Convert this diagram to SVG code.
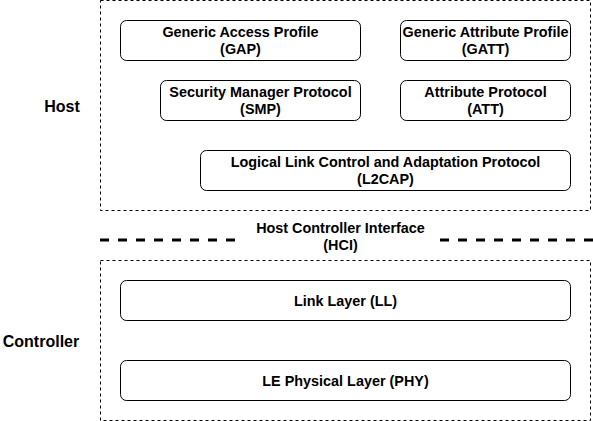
<svg xmlns="http://www.w3.org/2000/svg" width="593" height="421" viewBox="0 0 593 421">
<style>
.grp{fill:#ffffff;stroke:#000000;stroke-width:1;stroke-dasharray:3 3}
.box{fill:#ffffff;stroke:#000000;stroke-width:1}
.t{font-family:"Liberation Sans",Arial,sans-serif;font-weight:bold;font-size:14.4px;fill:#000000;text-anchor:middle}
.lbl{font-family:"Liberation Sans",Arial,sans-serif;font-weight:bold;font-size:16px;fill:#000000;text-anchor:middle}
.hci{fill:none;stroke:#000000;stroke-width:3;stroke-dasharray:9 9}
</style>
<rect width="593" height="421" fill="#ffffff"/>
<g id="host-group">
<rect class="grp" x="100.5" y="0.5" width="490" height="210"/>
<text class="lbl" x="62" y="112">Host</text>
</g>
<g id="controller-group">
<rect class="grp" x="100.5" y="260.5" width="490" height="160"/>
<text class="lbl" x="41" y="347">Controller</text>
</g>
<g id="gap">
<rect class="box" x="120.5" y="20.5" width="240" height="40" rx="6"/>
<text class="t" x="240.5" y="37">Generic Access Profile</text>
<text class="t" x="240.5" y="54">(GAP)</text>
</g>
<g id="gatt">
<rect class="box" x="400.5" y="20.5" width="170" height="40" rx="6"/>
<text class="t" x="485.5" y="37">Generic Attribute Profile</text>
<text class="t" x="485.5" y="54">(GATT)</text>
</g>
<g id="smp">
<rect class="box" x="160.5" y="80.5" width="200" height="40" rx="6"/>
<text class="t" x="260.5" y="97">Security Manager Protocol</text>
<text class="t" x="260.5" y="114">(SMP)</text>
</g>
<g id="att">
<rect class="box" x="400.5" y="80.5" width="170" height="40" rx="6"/>
<text class="t" x="485.5" y="97">Attribute Protocol</text>
<text class="t" x="485.5" y="114">(ATT)</text>
</g>
<g id="l2cap">
<rect class="box" x="200.5" y="150.5" width="370" height="40" rx="6"/>
<text class="t" x="385.5" y="167">Logical Link Control and Adaptation Protocol</text>
<text class="t" x="385.5" y="184">(L2CAP)</text>
</g>
<g id="hci">
<text class="t" x="340.5" y="233">Host Controller Interface</text>
<text class="t" x="340.5" y="250">(HCI)</text>
</g>
<g id="connectors">
<line class="hci" x1="100" y1="240" x2="236" y2="240"/>
<line class="hci" x1="440" y1="240" x2="593" y2="240"/>
</g>
<g id="ll">
<rect class="box" x="120.5" y="280.5" width="450" height="40" rx="6"/>
<text class="t" x="345.5" y="305.5">Link Layer (LL)</text>
</g>
<g id="phy">
<rect class="box" x="120.5" y="360.5" width="450" height="40" rx="6"/>
<text class="t" x="345.5" y="385.5">LE Physical Layer (PHY)</text>
</g>
</svg>
